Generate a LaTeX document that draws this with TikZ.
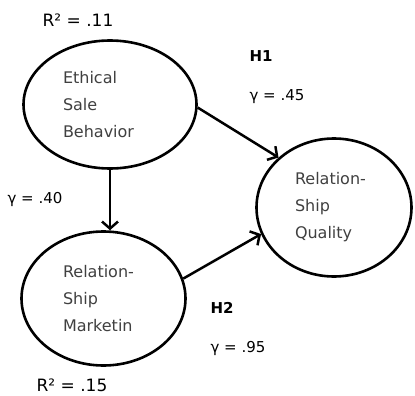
\documentclass[tikz,border=0pt]{standalone}
\usepackage{fontspec}
\setmainfont{DejaVu Sans}
\usetikzlibrary{shapes.geometric, arrows.meta}

\begin{document}
\begin{tikzpicture}[x=1pt, y=-1pt]
		\tikzstyle{construct} = [ellipse, draw, line width=2.6pt, align=left, text=black!75, font=\fontsize{16}{27}\selectfont]
		\tikzstyle{path} = [line width=2.5pt, -{Straight Barb[length=7pt, width=16pt]}]
		\tikzstyle{coef} = [font=\fontsize{15}{18}\selectfont]
		\tikzstyle{hypo} = [font=\fontsize{15}{18}\selectfont\bfseries]
		\tikzstyle{rsq} = [font=\fontsize{17}{20}\selectfont]
		\useasboundingbox (0,0) rectangle (415,396);
		% constructs
		\node[construct, minimum width=173pt, minimum height=128pt, text width=94pt] (esb) at (110,104.5) {Ethical\\Sale\\Behavior};
		\node[construct, minimum width=164pt, minimum height=134pt, text width=81pt] (rsm) at (103.5,298.5) {Relation-\\Ship\\Marketin};
		\node[construct, minimum width=155pt, minimum height=138pt, text width=78pt] (rsq) at (334,207.5) {Relation-\\Ship\\Quality};
		% paths
		\draw[path] (esb.south) -- (esb.south |- rsm.north);
		\draw[path] (esb.-2) -- (rsq.138);
		\draw[path] (rsm.14) -- (rsq.200);
		% labels
		\node[rsq] (r2esb) at (78,20) {R² = .11};
		\node[rsq] (r2rsm) at (72,385) {R² = .15};
		\node[hypo] (h1) at (261,56) {H1};
		\node[coef] (g1) at (277,97) {γ = .45};
		\node[coef] (g3) at (35,199) {γ = .40};
		\node[hypo] (h2) at (222,308) {H2};
		\node[coef] (g2) at (238,348) {γ = .95};
\end{tikzpicture}
\end{document}
